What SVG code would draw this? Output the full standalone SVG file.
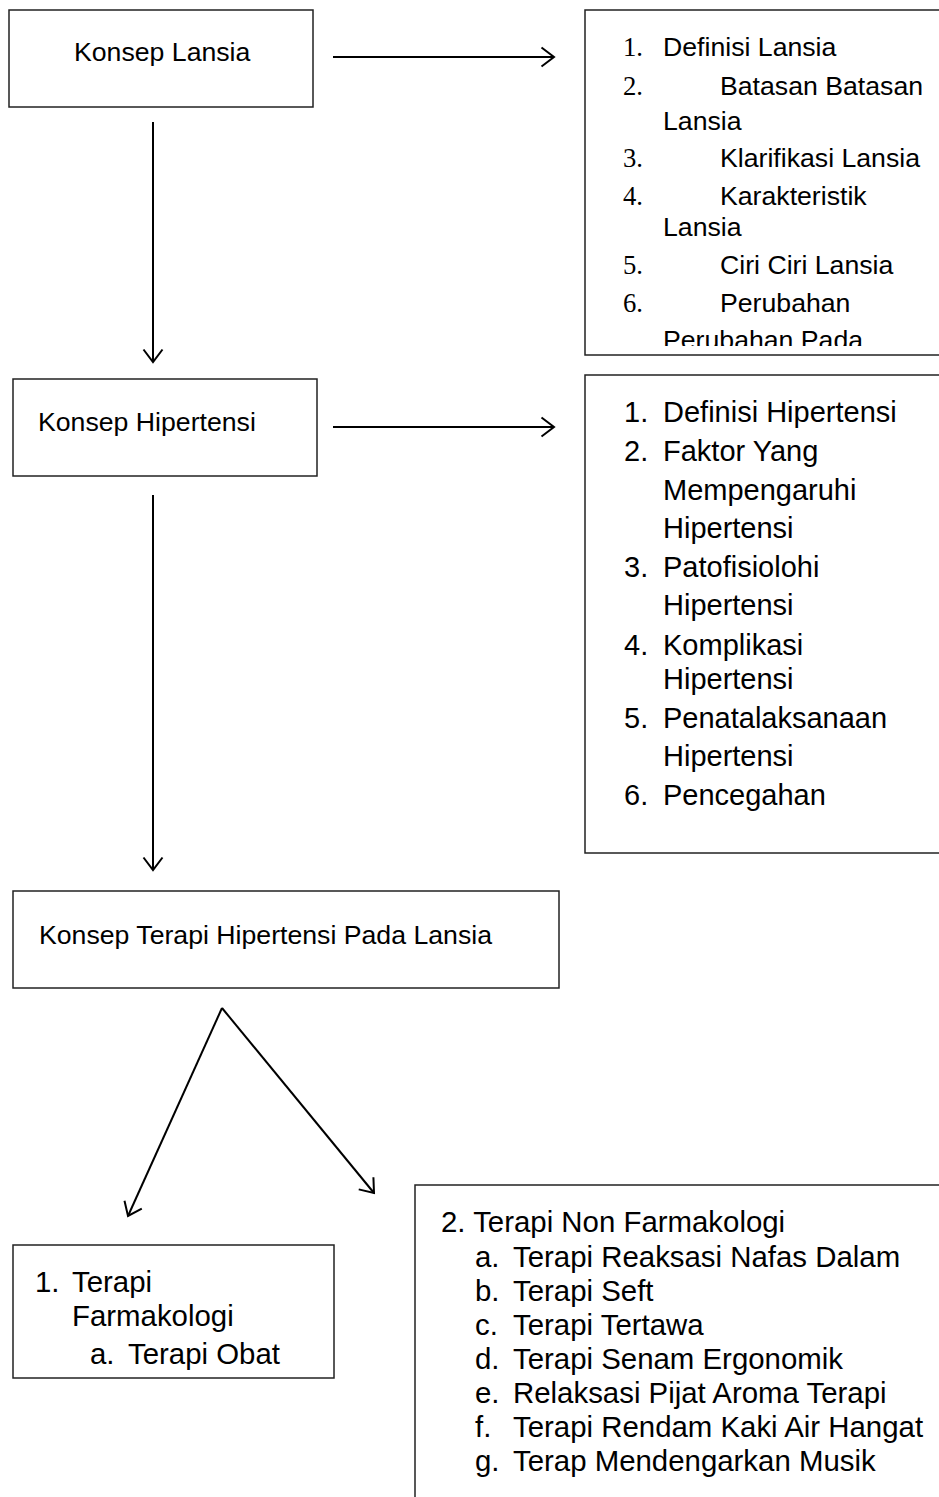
<svg xmlns="http://www.w3.org/2000/svg" width="939" height="1497" viewBox="0 0 939 1497">
<style>
.box{fill:#fff;stroke:#222;stroke-width:1.5}
.t{font-family:"Liberation Sans",Arial,sans-serif;fill:#000}
.n{font-family:"Liberation Serif","Times New Roman",serif;fill:#000}
.lbl{font-size:26.67px}
.s1{font-size:26.67px}
.s2{font-size:29px}
.s3{font-size:29.4px}
.con{stroke:#000;stroke-width:2;fill:none;marker-end:url(#ah)}
</style>
<defs>
<marker id="ah" markerUnits="userSpaceOnUse" viewBox="0 0 16 22" refX="14" refY="11" markerWidth="16" markerHeight="22" orient="auto">
<path d="M1.5,1.5 L14,11 L1.5,20.5" fill="none" stroke="#000" stroke-width="2"/>
</marker>
<clipPath id="clip1"><rect x="580" y="5" width="370" height="341"/></clipPath>
</defs>
<rect width="939" height="1497" fill="#fff"/>
<g id="connectors">
<line class="con" x1="333" y1="57" x2="554" y2="57"/>
<line class="con" x1="153" y1="122" x2="153" y2="362"/>
<line class="con" x1="333" y1="427" x2="554" y2="427"/>
<line class="con" x1="153" y1="495" x2="153" y2="870"/>
<line class="con" x1="222" y1="1008" x2="128" y2="1216"/>
<line class="con" x1="222" y1="1008" x2="374" y2="1193"/>
</g>
<g id="konsep-lansia">
<rect class="box" x="9" y="10" width="304" height="97"/>
<text class="t lbl" x="74" y="61">Konsep Lansia</text>
</g>
<g id="list-lansia">
<rect class="box" x="585" y="10" width="370" height="345"/>
<g clip-path="url(#clip1)">
<text class="n s1" x="623" y="56">1.</text><text class="t s1" x="663" y="56">Definisi Lansia</text>
<text class="n s1" x="623" y="95">2.</text><text class="t s1" x="720" y="95">Batasan Batasan</text>
<text class="t s1" x="663" y="130">Lansia</text>
<text class="n s1" x="623" y="167">3.</text><text class="t s1" x="720" y="167">Klarifikasi Lansia</text>
<text class="n s1" x="623" y="205">4.</text><text class="t s1" x="720" y="205">Karakteristik</text>
<text class="t s1" x="663" y="236">Lansia</text>
<text class="n s1" x="623" y="274">5.</text><text class="t s1" x="720" y="274">Ciri Ciri Lansia</text>
<text class="n s1" x="623" y="312">6.</text><text class="t s1" x="720" y="312">Perubahan</text>
<text class="t s1" x="663" y="349">Perubahan Pada</text>
</g>
</g>
<g id="konsep-hipertensi">
<rect class="box" x="13" y="379" width="304" height="97"/>
<text class="t lbl" x="38" y="431">Konsep Hipertensi</text>
</g>
<g id="list-hipertensi">
<rect class="box" x="585" y="375" width="370" height="478"/>
<text class="t s2" x="624" y="422">1.</text><text class="t s2" x="663" y="422">Definisi Hipertensi</text>
<text class="t s2" x="624" y="461">2.</text><text class="t s2" x="663" y="461">Faktor Yang</text>
<text class="t s2" x="663" y="500">Mempengaruhi</text>
<text class="t s2" x="663" y="538">Hipertensi</text>
<text class="t s2" x="624" y="577">3.</text><text class="t s2" x="663" y="577">Patofisiolohi</text>
<text class="t s2" x="663" y="615">Hipertensi</text>
<text class="t s2" x="624" y="655">4.</text><text class="t s2" x="663" y="655">Komplikasi</text>
<text class="t s2" x="663" y="689">Hipertensi</text>
<text class="t s2" x="624" y="728">5.</text><text class="t s2" x="663" y="728">Penatalaksanaan</text>
<text class="t s2" x="663" y="766">Hipertensi</text>
<text class="t s2" x="624" y="805">6.</text><text class="t s2" x="663" y="805">Pencegahan</text>
</g>
<g id="konsep-terapi">
<rect class="box" x="13" y="891" width="546" height="97"/>
<text class="t lbl" x="39" y="944">Konsep Terapi Hipertensi Pada Lansia</text>
</g>
<g id="terapi-farmakologi">
<rect class="box" x="13" y="1245" width="321" height="133"/>
<text class="t s3" x="35" y="1292">1.</text><text class="t s3" x="72" y="1292">Terapi</text>
<text class="t s3" x="72" y="1326">Farmakologi</text>
<text class="t s3" x="90" y="1364">a.</text><text class="t s3" x="128" y="1364">Terapi Obat</text>
</g>
<g id="terapi-non-farmakologi">
<rect class="box" x="415" y="1185" width="540" height="330"/>
<text class="t s3" x="441" y="1232">2. Terapi Non Farmakologi</text>
<text class="t s3" x="475" y="1267">a.</text><text class="t s3" x="513" y="1267">Terapi Reaksasi Nafas Dalam</text>
<text class="t s3" x="475" y="1301">b.</text><text class="t s3" x="513" y="1301">Terapi Seft</text>
<text class="t s3" x="475" y="1335">c.</text><text class="t s3" x="513" y="1335">Terapi Tertawa</text>
<text class="t s3" x="475" y="1369">d.</text><text class="t s3" x="513" y="1369">Terapi Senam Ergonomik</text>
<text class="t s3" x="475" y="1403">e.</text><text class="t s3" x="513" y="1403">Relaksasi Pijat Aroma Terapi</text>
<text class="t s3" x="475" y="1437">f.</text><text class="t s3" x="513" y="1437">Terapi Rendam Kaki Air Hangat</text>
<text class="t s3" x="475" y="1471">g.</text><text class="t s3" x="513" y="1471">Terap Mendengarkan Musik</text>
</g>
</svg>
